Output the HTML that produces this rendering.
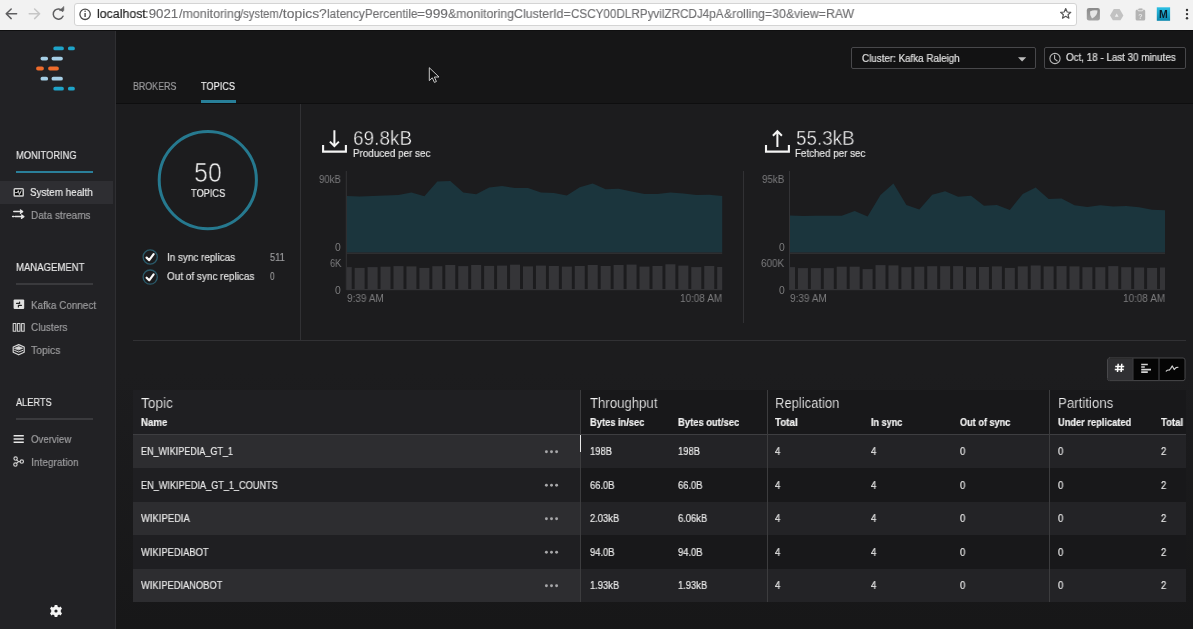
<!DOCTYPE html><html><head><meta charset="utf-8"><style>
*{margin:0;padding:0}
html,body{width:1193px;height:629px;overflow:hidden;background:#1c1c1e;font-family:"Liberation Sans",sans-serif}
.t{position:absolute;white-space:nowrap;transform-origin:0 0;will-change:transform}
.r{position:absolute}
svg.ov{position:absolute;left:0;top:0}
</style></head><body><div class="r" style="left:0px;top:0px;width:1193px;height:30px;background:#f2f2f2;"></div>
<div class="r" style="left:0px;top:30px;width:1193px;height:1.5px;background:#0f0f10;"></div>
<div class="r" style="left:0px;top:31px;width:115px;height:598px;background:#222225;"></div>
<div class="r" style="left:115px;top:31px;width:1px;height:598px;background:#2f2f32;"></div>
<div class="r" style="left:116px;top:31px;width:1077px;height:72px;background:#161617;"></div>
<div class="r" style="left:116px;top:103px;width:1077px;height:1px;background:#0e0e0f;"></div>
<div class="r" style="left:116px;top:104px;width:1077px;height:525px;background:linear-gradient(#1c1c1e 0px,#1c1c1e 270px,#171718 525px);"></div>
<div class="r" style="left:73.5px;top:3px;width:1003.5px;height:22.8px;background:#ffffff;border:1px solid #d4d4d4;border-radius:3px;box-sizing:border-box;"></div>
<div class="t" style="left:96.50px;top:8.42px;font-size:12.91px;line-height:12.91px;color:#202020;transform:scaleX(0.9585);-webkit-text-stroke:0.15px #202020">localhost</div>
<div class="t" style="left:145.30px;top:8.42px;font-size:12.91px;line-height:12.91px;color:#707072;transform:scaleX(1.0285);-webkit-text-stroke:0.15px #707072">:9021</div>
<div class="t" style="left:178.50px;top:8.42px;font-size:12.91px;line-height:12.91px;color:#707072;transform:scaleX(0.9685);-webkit-text-stroke:0.15px #707072">/monitoring</div>
<div class="t" style="left:240.30px;top:8.42px;font-size:12.91px;line-height:12.91px;color:#707072;transform:scaleX(0.8709);-webkit-text-stroke:0.15px #707072">/system</div>
<div class="t" style="left:279.00px;top:8.42px;font-size:12.91px;line-height:12.91px;color:#707072;transform:scaleX(1.0752);-webkit-text-stroke:0.15px #707072">/topics?</div>
<div class="t" style="left:326.80px;top:8.42px;font-size:12.91px;line-height:12.91px;color:#707072;transform:scaleX(0.9223);-webkit-text-stroke:0.15px #707072">latencyPercentile</div>
<div class="t" style="left:417.40px;top:8.42px;font-size:12.91px;line-height:12.91px;color:#707072;transform:scaleX(1.0669);-webkit-text-stroke:0.15px #707072">=999</div>
<div class="t" style="left:448.40px;top:8.42px;font-size:12.91px;line-height:12.91px;color:#707072;transform:scaleX(0.9587);-webkit-text-stroke:0.15px #707072">&amp;monitoringClusterId=</div>
<div class="t" style="left:571.10px;top:8.42px;font-size:12.91px;line-height:12.91px;color:#707072;transform:scaleX(0.9047);-webkit-text-stroke:0.15px #707072">CSCY00DLRPyvilZRCDJ4pA</div>
<div class="t" style="left:723.50px;top:8.42px;font-size:12.91px;line-height:12.91px;color:#707072;transform:scaleX(0.9535);-webkit-text-stroke:0.15px #707072">&amp;rolling=30&amp;view=RAW</div>
<div class="t" style="left:16.40px;top:149.94px;font-size:11.36px;line-height:11.36px;color:#e8e8e8;transform:scaleX(0.8239);-webkit-text-stroke:0.2px #e8e8e8;">MONITORING</div>
<div class="r" style="left:16px;top:171px;width:76.5px;height:2px;background:#2a7f9a;"></div>
<div class="r" style="left:0px;top:181px;width:112.5px;height:22.5px;background:#2e2e32;"></div>
<div class="t" style="left:30.40px;top:187.04px;font-size:11.36px;line-height:11.36px;color:#ececec;transform:scaleX(0.8707);-webkit-text-stroke:0.2px #ececec;">System health</div>
<div class="t" style="left:30.50px;top:209.94px;font-size:11.36px;line-height:11.36px;color:#9d9d9f;transform:scaleX(0.8815);-webkit-text-stroke:0.2px #9d9d9f;">Data streams</div>
<div class="t" style="left:16.40px;top:262.24px;font-size:11.36px;line-height:11.36px;color:#e8e8e8;transform:scaleX(0.8408);-webkit-text-stroke:0.2px #e8e8e8;">MANAGEMENT</div>
<div class="r" style="left:16px;top:283px;width:76.5px;height:1.5px;background:#3a3a3d;"></div>
<div class="t" style="left:30.70px;top:299.64px;font-size:11.36px;line-height:11.36px;color:#9d9d9f;transform:scaleX(0.8731);-webkit-text-stroke:0.2px #9d9d9f;">Kafka Connect</div>
<div class="t" style="left:30.70px;top:322.44px;font-size:11.36px;line-height:11.36px;color:#9d9d9f;transform:scaleX(0.8715);-webkit-text-stroke:0.2px #9d9d9f;">Clusters</div>
<div class="t" style="left:30.70px;top:344.84px;font-size:11.36px;line-height:11.36px;color:#9d9d9f;transform:scaleX(0.9145);-webkit-text-stroke:0.2px #9d9d9f;">Topics</div>
<div class="t" style="left:16.20px;top:396.94px;font-size:11.36px;line-height:11.36px;color:#e8e8e8;transform:scaleX(0.8077);-webkit-text-stroke:0.2px #e8e8e8;">ALERTS</div>
<div class="r" style="left:16px;top:418px;width:76.5px;height:1.5px;background:#3a3a3d;"></div>
<div class="t" style="left:30.50px;top:434.14px;font-size:11.36px;line-height:11.36px;color:#9d9d9f;transform:scaleX(0.8511);-webkit-text-stroke:0.2px #9d9d9f;">Overview</div>
<div class="t" style="left:30.50px;top:457.14px;font-size:11.36px;line-height:11.36px;color:#9d9d9f;transform:scaleX(0.8891);-webkit-text-stroke:0.2px #9d9d9f;">Integration</div>
<div class="t" style="left:132.60px;top:80.64px;font-size:11.36px;line-height:11.36px;color:#9a9a9c;transform:scaleX(0.7802);-webkit-text-stroke:0.2px #9a9a9c;">BROKERS</div>
<div class="t" style="left:201.40px;top:80.64px;font-size:11.36px;line-height:11.36px;color:#f2f2f2;transform:scaleX(0.8086);-webkit-text-stroke:0.2px #f2f2f2;">TOPICS</div>
<div class="r" style="left:201px;top:100px;width:35px;height:3px;background:#287f99;"></div>
<div class="r" style="left:851px;top:47.3px;width:184.5px;height:21.4px;background:#121213;border:1px solid #48484b;border-radius:2px;box-sizing:border-box;"></div>
<div class="t" style="left:862.00px;top:54.22px;font-size:10.33px;line-height:10.33px;color:#e0e0e0;transform:scaleX(0.9505);-webkit-text-stroke:0.2px #e0e0e0;">Cluster: Kafka Raleigh</div>
<div class="r" style="left:1044px;top:47.3px;width:141.5px;height:21.4px;background:#121213;border:1px solid #48484b;border-radius:2px;box-sizing:border-box;"></div>
<div class="t" style="left:1065.70px;top:53.12px;font-size:10.33px;line-height:10.33px;color:#e0e0e0;transform:scaleX(0.9511);-webkit-text-stroke:0.2px #e0e0e0;">Oct, 18 - Last 30 minutes</div>
<div class="r" style="left:300px;top:104px;width:1px;height:236px;background:#313134;"></div>
<div class="r" style="left:133px;top:340px;width:1052.5px;height:1px;background:#313134;"></div>
<div class="t" style="left:194.40px;top:160.27px;font-size:26.86px;line-height:26.86px;color:#f4f4f4;transform:scaleX(0.9313);-webkit-text-stroke:0.6px #1c1c1e;">50</div>
<div class="t" style="left:191.00px;top:188.18px;font-size:10.85px;line-height:10.85px;color:#e8e8e8;transform:scaleX(0.8532);-webkit-text-stroke:0.2px #e8e8e8;">TOPICS</div>
<div class="t" style="left:166.60px;top:251.88px;font-size:10.85px;line-height:10.85px;color:#e0e0e0;transform:scaleX(0.9118);-webkit-text-stroke:0.2px #e0e0e0;">In sync replicas</div>
<div class="t" style="left:166.60px;top:271.38px;font-size:10.85px;line-height:10.85px;color:#e0e0e0;transform:scaleX(0.9182);-webkit-text-stroke:0.2px #e0e0e0;">Out of sync replicas</div>
<div class="t" style="left:269.70px;top:251.88px;font-size:10.85px;line-height:10.85px;color:#9a9a9c;transform:scaleX(0.8555);-webkit-text-stroke:0.2px #9a9a9c;">511</div>
<div class="t" style="left:269.70px;top:271.38px;font-size:10.85px;line-height:10.85px;color:#9a9a9c;transform:scaleX(0.7273);-webkit-text-stroke:0.2px #9a9a9c;">0</div>
<div class="t" style="left:352.50px;top:127.84px;font-size:20.66px;line-height:20.66px;color:#ffffff;transform:scaleX(0.9191);-webkit-text-stroke:0.45px #1c1c1e;">69.8kB</div>
<div class="t" style="left:352.50px;top:148.28px;font-size:10.85px;line-height:10.85px;color:#e6e6e6;transform:scaleX(0.9112);-webkit-text-stroke:0.2px #e6e6e6;">Produced per sec</div>
<div class="t" style="left:795.80px;top:127.84px;font-size:20.66px;line-height:20.66px;color:#ffffff;transform:scaleX(0.9114);-webkit-text-stroke:0.45px #1c1c1e;">55.3kB</div>
<div class="t" style="left:794.80px;top:148.28px;font-size:10.85px;line-height:10.85px;color:#e6e6e6;transform:scaleX(0.9049);-webkit-text-stroke:0.2px #e6e6e6;">Fetched per sec</div>
<div class="t" style="left:318.90px;top:175.12px;font-size:10.33px;line-height:10.33px;color:#7c7c7e;transform:scaleX(0.9237);-webkit-text-stroke:0px;">90kB</div>
<div class="t" style="left:335.40px;top:242.82px;font-size:10.33px;line-height:10.33px;color:#7c7c7e;transform:scaleX(0.9217);-webkit-text-stroke:0px;">0</div>
<div class="t" style="left:329.70px;top:259.12px;font-size:10.33px;line-height:10.33px;color:#7c7c7e;transform:scaleX(0.8933);-webkit-text-stroke:0px;">6K</div>
<div class="t" style="left:335.40px;top:286.42px;font-size:10.33px;line-height:10.33px;color:#7c7c7e;transform:scaleX(0.9217);-webkit-text-stroke:0px;">0</div>
<div class="t" style="left:347.20px;top:293.92px;font-size:10.33px;line-height:10.33px;color:#7c7c7e;transform:scaleX(0.9723);-webkit-text-stroke:0px;">9:39 AM</div>
<div class="t" style="left:680.00px;top:293.92px;font-size:10.33px;line-height:10.33px;color:#7c7c7e;transform:scaleX(0.9646);-webkit-text-stroke:0px;">10:08 AM</div>
<div class="t" style="left:761.60px;top:175.12px;font-size:10.33px;line-height:10.33px;color:#7c7c7e;transform:scaleX(0.9407);-webkit-text-stroke:0px;">95kB</div>
<div class="t" style="left:778.70px;top:242.82px;font-size:10.33px;line-height:10.33px;color:#7c7c7e;transform:scaleX(0.9217);-webkit-text-stroke:0px;">0</div>
<div class="t" style="left:761.10px;top:259.22px;font-size:10.33px;line-height:10.33px;color:#7c7c7e;transform:scaleX(0.9607);-webkit-text-stroke:0px;">600K</div>
<div class="t" style="left:778.70px;top:286.42px;font-size:10.33px;line-height:10.33px;color:#7c7c7e;transform:scaleX(0.9217);-webkit-text-stroke:0px;">0</div>
<div class="t" style="left:790.30px;top:293.92px;font-size:10.33px;line-height:10.33px;color:#7c7c7e;transform:scaleX(0.9723);-webkit-text-stroke:0px;">9:39 AM</div>
<div class="t" style="left:1122.80px;top:293.92px;font-size:10.33px;line-height:10.33px;color:#7c7c7e;transform:scaleX(0.9646);-webkit-text-stroke:0px;">10:08 AM</div>
<div class="r" style="left:743px;top:171px;width:1px;height:152px;background:#313134;"></div>
<div class="r" style="left:132.5px;top:389.5px;width:448px;height:44.5px;background:#1f1f22;"></div>
<div class="r" style="left:580.5px;top:389.5px;width:605px;height:44.5px;background:#18181a;"></div>
<div class="r" style="left:132.5px;top:434px;width:1053px;height:1.2px;background:#3e3e41;"></div>
<div class="r" style="left:132.5px;top:435.3px;width:448px;height:32.69999999999999px;background:#2d2d30;"></div>
<div class="r" style="left:580.5px;top:435.3px;width:605px;height:32.69999999999999px;background:#232326;"></div>
<div class="r" style="left:132.5px;top:468px;width:448px;height:33.60000000000002px;background:#1f1f22;"></div>
<div class="r" style="left:580.5px;top:468px;width:605px;height:33.60000000000002px;background:#18181a;"></div>
<div class="r" style="left:132.5px;top:501.6px;width:448px;height:33.60000000000002px;background:#2d2d30;"></div>
<div class="r" style="left:580.5px;top:501.6px;width:605px;height:33.60000000000002px;background:#232326;"></div>
<div class="r" style="left:132.5px;top:535.2px;width:448px;height:33.59999999999991px;background:#1f1f22;"></div>
<div class="r" style="left:580.5px;top:535.2px;width:605px;height:33.59999999999991px;background:#18181a;"></div>
<div class="r" style="left:132.5px;top:568.8px;width:448px;height:33.200000000000045px;background:#2d2d30;"></div>
<div class="r" style="left:580.5px;top:568.8px;width:605px;height:33.200000000000045px;background:#232326;"></div>
<div class="r" style="left:580px;top:389.5px;width:1px;height:212.79999999999995px;background:#3c3c3e;"></div>
<div class="r" style="left:767px;top:389.5px;width:1px;height:212.79999999999995px;background:#3c3c3e;"></div>
<div class="r" style="left:1049.3px;top:389.5px;width:1px;height:212.79999999999995px;background:#3c3c3e;"></div>
<div class="r" style="left:580px;top:435px;width:1.2px;height:16.5px;background:#e8e8e8;"></div>
<div class="t" style="left:141.40px;top:395.81px;font-size:14.46px;line-height:14.46px;color:#f2f2f2;transform:scaleX(0.9452);-webkit-text-stroke:0.2px #1f1f22;">Topic</div>
<div class="t" style="left:589.70px;top:395.81px;font-size:14.46px;line-height:14.46px;color:#f2f2f2;transform:scaleX(0.9120);-webkit-text-stroke:0.2px #18181a;">Throughput</div>
<div class="t" style="left:774.90px;top:395.81px;font-size:14.46px;line-height:14.46px;color:#f2f2f2;transform:scaleX(0.8993);-webkit-text-stroke:0.2px #18181a;">Replication</div>
<div class="t" style="left:1057.60px;top:395.81px;font-size:14.46px;line-height:14.46px;color:#f2f2f2;transform:scaleX(0.9178);-webkit-text-stroke:0.2px #18181a;">Partitions</div>
<div class="t" style="left:141.40px;top:417.92px;font-size:10.33px;line-height:10.33px;color:#f0f0f0;font-weight:bold;transform:scaleX(0.9326);-webkit-text-stroke:0.2px #f0f0f0;">Name</div>
<div class="t" style="left:589.70px;top:417.92px;font-size:10.33px;line-height:10.33px;color:#f0f0f0;font-weight:bold;transform:scaleX(0.9023);-webkit-text-stroke:0.2px #f0f0f0;">Bytes in/sec</div>
<div class="t" style="left:678.00px;top:417.92px;font-size:10.33px;line-height:10.33px;color:#f0f0f0;font-weight:bold;transform:scaleX(0.9108);-webkit-text-stroke:0.2px #f0f0f0;">Bytes out/sec</div>
<div class="t" style="left:774.90px;top:417.92px;font-size:10.33px;line-height:10.33px;color:#f0f0f0;font-weight:bold;transform:scaleX(0.9520);-webkit-text-stroke:0.2px #f0f0f0;">Total</div>
<div class="t" style="left:871.40px;top:417.92px;font-size:10.33px;line-height:10.33px;color:#f0f0f0;font-weight:bold;transform:scaleX(0.8808);-webkit-text-stroke:0.2px #f0f0f0;">In sync</div>
<div class="t" style="left:960.00px;top:417.92px;font-size:10.33px;line-height:10.33px;color:#f0f0f0;font-weight:bold;transform:scaleX(0.8850);-webkit-text-stroke:0.2px #f0f0f0;">Out of sync</div>
<div class="t" style="left:1057.60px;top:417.92px;font-size:10.33px;line-height:10.33px;color:#f0f0f0;font-weight:bold;transform:scaleX(0.8977);-webkit-text-stroke:0.2px #f0f0f0;">Under replicated</div>
<div class="t" style="left:1161.00px;top:417.92px;font-size:10.33px;line-height:10.33px;color:#f0f0f0;font-weight:bold;transform:scaleX(0.9269);-webkit-text-stroke:0.2px #f0f0f0;">Total</div>
<div class="t" style="left:141.40px;top:447.22px;font-size:10.33px;line-height:10.33px;color:#e8e8e8;transform:scaleX(0.8760);-webkit-text-stroke:0.2px #e8e8e8;">EN_WIKIPEDIA_GT_1</div>
<div class="t" style="left:589.70px;top:447.22px;font-size:10.33px;line-height:10.33px;color:#e8e8e8;transform:scaleX(0.9100);-webkit-text-stroke:0.2px #e8e8e8;">198B</div>
<div class="t" style="left:678.00px;top:447.22px;font-size:10.33px;line-height:10.33px;color:#e8e8e8;transform:scaleX(0.9100);-webkit-text-stroke:0.2px #e8e8e8;">198B</div>
<div class="t" style="left:774.90px;top:447.22px;font-size:10.33px;line-height:10.33px;color:#e8e8e8;transform:scaleX(0.9100);-webkit-text-stroke:0.2px #e8e8e8;">4</div>
<div class="t" style="left:871.40px;top:447.22px;font-size:10.33px;line-height:10.33px;color:#e8e8e8;transform:scaleX(0.9100);-webkit-text-stroke:0.2px #e8e8e8;">4</div>
<div class="t" style="left:960.00px;top:447.22px;font-size:10.33px;line-height:10.33px;color:#e8e8e8;transform:scaleX(0.9100);-webkit-text-stroke:0.2px #e8e8e8;">0</div>
<div class="t" style="left:1057.60px;top:447.22px;font-size:10.33px;line-height:10.33px;color:#e8e8e8;transform:scaleX(0.9100);-webkit-text-stroke:0.2px #e8e8e8;">0</div>
<div class="t" style="left:1161.00px;top:447.22px;font-size:10.33px;line-height:10.33px;color:#e8e8e8;transform:scaleX(0.9100);-webkit-text-stroke:0.2px #e8e8e8;">2</div>
<div class="t" style="left:141.40px;top:480.72px;font-size:10.33px;line-height:10.33px;color:#e8e8e8;transform:scaleX(0.8856);-webkit-text-stroke:0.2px #e8e8e8;">EN_WIKIPEDIA_GT_1_COUNTS</div>
<div class="t" style="left:589.70px;top:480.72px;font-size:10.33px;line-height:10.33px;color:#e8e8e8;transform:scaleX(0.9100);-webkit-text-stroke:0.2px #e8e8e8;">66.0B</div>
<div class="t" style="left:678.00px;top:480.72px;font-size:10.33px;line-height:10.33px;color:#e8e8e8;transform:scaleX(0.9100);-webkit-text-stroke:0.2px #e8e8e8;">66.0B</div>
<div class="t" style="left:774.90px;top:480.72px;font-size:10.33px;line-height:10.33px;color:#e8e8e8;transform:scaleX(0.9100);-webkit-text-stroke:0.2px #e8e8e8;">4</div>
<div class="t" style="left:871.40px;top:480.72px;font-size:10.33px;line-height:10.33px;color:#e8e8e8;transform:scaleX(0.9100);-webkit-text-stroke:0.2px #e8e8e8;">4</div>
<div class="t" style="left:960.00px;top:480.72px;font-size:10.33px;line-height:10.33px;color:#e8e8e8;transform:scaleX(0.9100);-webkit-text-stroke:0.2px #e8e8e8;">0</div>
<div class="t" style="left:1057.60px;top:480.72px;font-size:10.33px;line-height:10.33px;color:#e8e8e8;transform:scaleX(0.9100);-webkit-text-stroke:0.2px #e8e8e8;">0</div>
<div class="t" style="left:1161.00px;top:480.72px;font-size:10.33px;line-height:10.33px;color:#e8e8e8;transform:scaleX(0.9100);-webkit-text-stroke:0.2px #e8e8e8;">2</div>
<div class="t" style="left:141.40px;top:514.22px;font-size:10.33px;line-height:10.33px;color:#e8e8e8;transform:scaleX(0.9140);-webkit-text-stroke:0.2px #e8e8e8;">WIKIPEDIA</div>
<div class="t" style="left:589.70px;top:514.22px;font-size:10.33px;line-height:10.33px;color:#e8e8e8;transform:scaleX(0.9100);-webkit-text-stroke:0.2px #e8e8e8;">2.03kB</div>
<div class="t" style="left:678.00px;top:514.22px;font-size:10.33px;line-height:10.33px;color:#e8e8e8;transform:scaleX(0.9100);-webkit-text-stroke:0.2px #e8e8e8;">6.06kB</div>
<div class="t" style="left:774.90px;top:514.22px;font-size:10.33px;line-height:10.33px;color:#e8e8e8;transform:scaleX(0.9100);-webkit-text-stroke:0.2px #e8e8e8;">4</div>
<div class="t" style="left:871.40px;top:514.22px;font-size:10.33px;line-height:10.33px;color:#e8e8e8;transform:scaleX(0.9100);-webkit-text-stroke:0.2px #e8e8e8;">4</div>
<div class="t" style="left:960.00px;top:514.22px;font-size:10.33px;line-height:10.33px;color:#e8e8e8;transform:scaleX(0.9100);-webkit-text-stroke:0.2px #e8e8e8;">0</div>
<div class="t" style="left:1057.60px;top:514.22px;font-size:10.33px;line-height:10.33px;color:#e8e8e8;transform:scaleX(0.9100);-webkit-text-stroke:0.2px #e8e8e8;">0</div>
<div class="t" style="left:1161.00px;top:514.22px;font-size:10.33px;line-height:10.33px;color:#e8e8e8;transform:scaleX(0.9100);-webkit-text-stroke:0.2px #e8e8e8;">2</div>
<div class="t" style="left:141.40px;top:547.72px;font-size:10.33px;line-height:10.33px;color:#e8e8e8;transform:scaleX(0.9070);-webkit-text-stroke:0.2px #e8e8e8;">WIKIPEDIABOT</div>
<div class="t" style="left:589.70px;top:547.72px;font-size:10.33px;line-height:10.33px;color:#e8e8e8;transform:scaleX(0.9100);-webkit-text-stroke:0.2px #e8e8e8;">94.0B</div>
<div class="t" style="left:678.00px;top:547.72px;font-size:10.33px;line-height:10.33px;color:#e8e8e8;transform:scaleX(0.9100);-webkit-text-stroke:0.2px #e8e8e8;">94.0B</div>
<div class="t" style="left:774.90px;top:547.72px;font-size:10.33px;line-height:10.33px;color:#e8e8e8;transform:scaleX(0.9100);-webkit-text-stroke:0.2px #e8e8e8;">4</div>
<div class="t" style="left:871.40px;top:547.72px;font-size:10.33px;line-height:10.33px;color:#e8e8e8;transform:scaleX(0.9100);-webkit-text-stroke:0.2px #e8e8e8;">4</div>
<div class="t" style="left:960.00px;top:547.72px;font-size:10.33px;line-height:10.33px;color:#e8e8e8;transform:scaleX(0.9100);-webkit-text-stroke:0.2px #e8e8e8;">0</div>
<div class="t" style="left:1057.60px;top:547.72px;font-size:10.33px;line-height:10.33px;color:#e8e8e8;transform:scaleX(0.9100);-webkit-text-stroke:0.2px #e8e8e8;">0</div>
<div class="t" style="left:1161.00px;top:547.72px;font-size:10.33px;line-height:10.33px;color:#e8e8e8;transform:scaleX(0.9100);-webkit-text-stroke:0.2px #e8e8e8;">2</div>
<div class="t" style="left:141.40px;top:581.22px;font-size:10.33px;line-height:10.33px;color:#e8e8e8;transform:scaleX(0.9037);-webkit-text-stroke:0.2px #e8e8e8;">WIKIPEDIANOBOT</div>
<div class="t" style="left:589.70px;top:581.22px;font-size:10.33px;line-height:10.33px;color:#e8e8e8;transform:scaleX(0.9100);-webkit-text-stroke:0.2px #e8e8e8;">1.93kB</div>
<div class="t" style="left:678.00px;top:581.22px;font-size:10.33px;line-height:10.33px;color:#e8e8e8;transform:scaleX(0.9100);-webkit-text-stroke:0.2px #e8e8e8;">1.93kB</div>
<div class="t" style="left:774.90px;top:581.22px;font-size:10.33px;line-height:10.33px;color:#e8e8e8;transform:scaleX(0.9100);-webkit-text-stroke:0.2px #e8e8e8;">4</div>
<div class="t" style="left:871.40px;top:581.22px;font-size:10.33px;line-height:10.33px;color:#e8e8e8;transform:scaleX(0.9100);-webkit-text-stroke:0.2px #e8e8e8;">4</div>
<div class="t" style="left:960.00px;top:581.22px;font-size:10.33px;line-height:10.33px;color:#e8e8e8;transform:scaleX(0.9100);-webkit-text-stroke:0.2px #e8e8e8;">0</div>
<div class="t" style="left:1057.60px;top:581.22px;font-size:10.33px;line-height:10.33px;color:#e8e8e8;transform:scaleX(0.9100);-webkit-text-stroke:0.2px #e8e8e8;">0</div>
<div class="t" style="left:1161.00px;top:581.22px;font-size:10.33px;line-height:10.33px;color:#e8e8e8;transform:scaleX(0.9100);-webkit-text-stroke:0.2px #e8e8e8;">2</div><svg class="ov" width="1193" height="629" viewBox="0 0 1193 629"><path d="M346.70 252.60 L346.70 196.00 L359.65 196.50 L372.60 196.00 L385.54 195.50 L398.49 195.10 L411.44 192.60 L424.39 196.30 L437.34 181.40 L450.29 180.90 L463.23 192.60 L476.18 194.30 L489.13 187.60 L502.08 185.90 L515.03 188.10 L527.98 188.10 L540.92 192.60 L553.87 193.10 L566.82 195.60 L579.77 187.30 L592.72 183.40 L605.67 189.30 L618.61 188.80 L631.56 191.50 L644.51 194.00 L657.46 194.00 L670.41 192.60 L683.36 193.50 L696.30 195.10 L709.25 194.80 L722.20 196.00 L722.20 252.60 Z" fill="#1b353d"/><rect x="346.70" y="252.60" width="375.50" height="1.2" fill="#333336"/><rect x="346.70" y="267.10" width="5.00" height="21.90" fill="#353538"/><rect x="354.65" y="267.90" width="10.00" height="21.10" fill="#353538"/><rect x="367.60" y="267.10" width="10.00" height="21.90" fill="#353538"/><rect x="380.54" y="266.70" width="10.00" height="22.30" fill="#353538"/><rect x="393.49" y="266.10" width="10.00" height="22.90" fill="#353538"/><rect x="406.44" y="266.40" width="10.00" height="22.60" fill="#353538"/><rect x="419.39" y="267.90" width="10.00" height="21.10" fill="#353538"/><rect x="432.34" y="266.20" width="10.00" height="22.80" fill="#353538"/><rect x="445.29" y="265.00" width="10.00" height="24.00" fill="#353538"/><rect x="458.23" y="266.10" width="10.00" height="22.90" fill="#353538"/><rect x="471.18" y="265.00" width="10.00" height="24.00" fill="#353538"/><rect x="484.13" y="265.90" width="10.00" height="23.10" fill="#353538"/><rect x="497.08" y="265.60" width="10.00" height="23.40" fill="#353538"/><rect x="510.03" y="264.70" width="10.00" height="24.30" fill="#353538"/><rect x="522.98" y="266.40" width="10.00" height="22.60" fill="#353538"/><rect x="535.92" y="265.60" width="10.00" height="23.40" fill="#353538"/><rect x="548.87" y="266.00" width="10.00" height="23.00" fill="#353538"/><rect x="561.82" y="266.60" width="10.00" height="22.40" fill="#353538"/><rect x="574.77" y="266.00" width="10.00" height="23.00" fill="#353538"/><rect x="587.72" y="265.00" width="10.00" height="24.00" fill="#353538"/><rect x="600.67" y="266.00" width="10.00" height="23.00" fill="#353538"/><rect x="613.61" y="265.00" width="10.00" height="24.00" fill="#353538"/><rect x="626.56" y="264.60" width="10.00" height="24.40" fill="#353538"/><rect x="639.51" y="266.60" width="10.00" height="22.40" fill="#353538"/><rect x="652.46" y="266.00" width="10.00" height="23.00" fill="#353538"/><rect x="665.41" y="264.30" width="10.00" height="24.70" fill="#353538"/><rect x="678.36" y="265.60" width="10.00" height="23.40" fill="#353538"/><rect x="691.30" y="267.10" width="10.00" height="21.90" fill="#353538"/><rect x="704.25" y="266.00" width="10.00" height="23.00" fill="#353538"/><rect x="717.20" y="267.00" width="5.00" height="22.00" fill="#353538"/><rect x="346.70" y="289.00" width="375.50" height="1.2" fill="#333336"/><rect x="345.80" y="171" width="1" height="119.00" fill="#333336"/><path d="M790.00 252.60 L790.00 215.60 L802.93 216.10 L815.86 215.80 L828.79 215.80 L841.72 215.80 L854.66 211.10 L867.59 216.40 L880.52 195.10 L893.45 183.40 L906.38 204.90 L919.31 209.40 L932.24 194.80 L945.17 191.30 L958.10 196.80 L971.03 195.80 L983.97 205.70 L996.90 204.90 L1009.83 209.90 L1022.76 194.00 L1035.69 187.60 L1048.62 199.00 L1061.55 198.50 L1074.48 205.20 L1087.41 206.90 L1100.34 205.20 L1113.28 206.50 L1126.21 206.00 L1139.14 207.20 L1152.07 209.70 L1165.00 210.20 L1165.00 252.60 Z" fill="#1b353d"/><rect x="790.00" y="252.60" width="375.00" height="1.2" fill="#333336"/><rect x="790.00" y="267.10" width="5.00" height="21.90" fill="#353538"/><rect x="797.93" y="268.10" width="10.00" height="20.90" fill="#353538"/><rect x="810.86" y="268.10" width="10.00" height="20.90" fill="#353538"/><rect x="823.79" y="268.10" width="10.00" height="20.90" fill="#353538"/><rect x="836.72" y="266.70" width="10.00" height="22.30" fill="#353538"/><rect x="849.66" y="266.70" width="10.00" height="22.30" fill="#353538"/><rect x="862.59" y="269.10" width="10.00" height="19.90" fill="#353538"/><rect x="875.52" y="265.10" width="10.00" height="23.90" fill="#353538"/><rect x="888.45" y="265.40" width="10.00" height="23.60" fill="#353538"/><rect x="901.38" y="267.20" width="10.00" height="21.80" fill="#353538"/><rect x="914.31" y="266.70" width="10.00" height="22.30" fill="#353538"/><rect x="927.24" y="266.20" width="10.00" height="22.80" fill="#353538"/><rect x="940.17" y="266.20" width="10.00" height="22.80" fill="#353538"/><rect x="953.10" y="266.10" width="10.00" height="22.90" fill="#353538"/><rect x="966.03" y="267.10" width="10.00" height="21.90" fill="#353538"/><rect x="978.97" y="267.00" width="10.00" height="22.00" fill="#353538"/><rect x="991.90" y="266.40" width="10.00" height="22.60" fill="#353538"/><rect x="1004.83" y="267.90" width="10.00" height="21.10" fill="#353538"/><rect x="1017.76" y="266.40" width="10.00" height="22.60" fill="#353538"/><rect x="1030.69" y="265.50" width="10.00" height="23.50" fill="#353538"/><rect x="1043.62" y="266.40" width="10.00" height="22.60" fill="#353538"/><rect x="1056.55" y="266.10" width="10.00" height="22.90" fill="#353538"/><rect x="1069.48" y="266.40" width="10.00" height="22.60" fill="#353538"/><rect x="1082.41" y="267.20" width="10.00" height="21.80" fill="#353538"/><rect x="1095.34" y="267.20" width="10.00" height="21.80" fill="#353538"/><rect x="1108.28" y="266.10" width="10.00" height="22.90" fill="#353538"/><rect x="1121.21" y="267.20" width="10.00" height="21.80" fill="#353538"/><rect x="1134.14" y="267.50" width="10.00" height="21.50" fill="#353538"/><rect x="1147.07" y="267.90" width="10.00" height="21.10" fill="#353538"/><rect x="1160.00" y="267.50" width="5.00" height="21.50" fill="#353538"/><rect x="790.00" y="289.00" width="375.00" height="1.2" fill="#333336"/><rect x="789.00" y="171" width="1" height="119.00" fill="#333336"/><g fill="none" stroke-linecap="round" stroke-linejoin="round">
<!-- chrome -->
<path d="M6.2 13.8 H16.6 M11.2 9 L6.2 13.8 L11.2 18.6" stroke="#5f5f61" stroke-width="1.5"/>
<path d="M39.6 13.8 H29.2 M34.6 9 L39.6 13.8 L34.6 18.6" stroke="#c6c6c6" stroke-width="1.5"/>
<path d="M62.6 11.2 A5.1 5.1 0 1 0 63 16.2" stroke="#5f5f61" stroke-width="1.5"/>
<path d="M59.8 10.6 L63.8 10.6 L63.8 6.8 Z" fill="#5f5f61" stroke="#5f5f61" stroke-width="0.6"/>
<circle cx="85.1" cy="14.3" r="5.2" stroke="#4a4a4a" stroke-width="1.3"/>
<path d="M85.1 13 V17" stroke="#4a4a4a" stroke-width="1.4" stroke-linecap="butt"/>
<circle cx="85.1" cy="11.2" r="0.8" fill="#4a4a4a" stroke="none"/>
<path d="M1065.7 8.6 L1067.2 12 L1070.8 12.3 L1068 14.7 L1068.9 18.2 L1065.7 16.3 L1062.5 18.2 L1063.4 14.7 L1060.6 12.3 L1064.2 12 Z" stroke="#555" stroke-width="1.2"/>
<rect x="1086.8" y="7.9" width="13.1" height="12.6" rx="2.2" fill="url(#sg)" stroke="none"/>
<path d="M1090 11.5 Q1093.5 9.5 1097.5 10.5 Q1097.5 16 1092 18.5 Q1089.5 15 1090 11.5 Z" fill="#e6e6e6" stroke="none"/>
<path d="M1113.8 9 H1119.6 L1123.4 15.6 L1120.5 20.2 H1112.9 L1110 15.6 Z" fill="#c2c2c2" stroke="none"/>
<path d="M1116.7 13.5 L1118.6 16.8 H1114.8 Z" fill="#eeeeee" stroke="none"/>
<rect x="1135.6" y="9.5" width="9.6" height="11" rx="1.5" fill="#b4b4b4" stroke="none"/>
<rect x="1137.8" y="8" width="5.2" height="2.8" rx="1" fill="#b4b4b4" stroke="#f2f2f2" stroke-width="0.8"/>
<text x="1140.4" y="18.6" font-family="Liberation Sans" font-size="7" font-weight="bold" fill="#e8e8e8" stroke="none" text-anchor="middle">?</text>
<defs><linearGradient id="mg" x1="0" y1="0" x2="0" y2="1"><stop offset="0" stop-color="#2cc0e4"/><stop offset="1" stop-color="#0a86ad"/></linearGradient><linearGradient id="sg" x1="0" y1="0" x2="0" y2="1"><stop offset="0" stop-color="#8a8a8a"/><stop offset="1" stop-color="#a4a4a4"/></linearGradient></defs><rect x="1156.8" y="7.3" width="13.3" height="13.5" fill="url(#mg)" stroke="none"/>
<text x="1163.4" y="18.2" font-family="Liberation Sans" font-size="10.5" font-weight="bold" fill="#0b1f2c" stroke="none" text-anchor="middle">M</text>
<circle cx="1187" cy="10" r="1.2" fill="#333" stroke="none"/>
<circle cx="1187" cy="14.1" r="1.2" fill="#333" stroke="none"/>
<circle cx="1187" cy="18.3" r="1.2" fill="#333" stroke="none"/>

<!-- logo -->
<g stroke-width="3.8" stroke-linecap="round">
<path d="M55.2 48.4 H62 M69.8 48.4 H73" stroke="#1ea4c9"/>
<path d="M42.4 58.6 H46.2 M53.4 58.6 H61" stroke="#a6cfe6"/>
<path d="M38 68.5 H42 M50 68.5 H57" stroke="#ee6b2b"/>
<path d="M42.4 78.7 H46.2 M53.4 78.7 H61" stroke="#a6cfe6"/>
<path d="M55.2 88.7 H62 M69.8 88.7 H73" stroke="#1ea4c9"/>
</g>

<!-- sidebar icons -->
<rect x="14.2" y="188.7" width="9" height="7.3" rx="0.8" fill="#050505" stroke="#cfcfcf" stroke-width="1.5"/>
<path d="M15.6 192.6 H17.4 L18.3 190.6 L19.4 194.6 L21.2 190.8" stroke="#d6d6d6" stroke-width="1"/>
<path d="M13.8 211.6 H22.2 M20.5 210 L22.6 211.6 L20.5 213.2 M12.6 216.6 H13.8 M15.2 216.6 H23.4 M21.6 215 L23.8 216.6 L21.6 218.2" stroke="#e6e6e6" stroke-width="1.5"/>
<rect x="13.6" y="299.6" width="10.6" height="9.4" rx="1" fill="#e0e0e0" stroke="none"/>
<path d="M16.6 303.4 H19.6 V302 M21.4 305.4 H18.4 V307" stroke="#222" stroke-width="1.2"/>
<rect x="13.2" y="323.5" width="2.6" height="7.8" stroke="#d0d0d0" stroke-width="1.1"/>
<rect x="17.4" y="323.5" width="2.6" height="7.8" stroke="#d0d0d0" stroke-width="1.1"/>
<rect x="21.6" y="323.5" width="2.6" height="7.8" stroke="#d0d0d0" stroke-width="1.1"/>
<path d="M18.7 344.6 L24.2 347 V352.2 L18.7 354.8 L13.2 352.2 V347 Z" fill="none" stroke="#d8d8d8" stroke-width="1.2"/>
<path d="M14.8 348.2 L18.7 346.6 L22.6 348.2 L18.7 349.8 Z" fill="#d8d8d8" stroke="#d8d8d8" stroke-width="0.8"/>
<path d="M14.6 350.4 L18.7 352 L22.8 350.4" stroke="#d8d8d8" stroke-width="1"/>
<path d="M13.6 435.8 H23.8 M13.6 439 H23.8 M13.6 442.2 H23.8" stroke="#e8e8e8" stroke-width="1.6" stroke-linecap="butt"/>
<circle cx="15.6" cy="458.6" r="1.7" stroke="#d0d0d0" stroke-width="1.1"/>
<circle cx="21.8" cy="461.6" r="1.7" stroke="#d0d0d0" stroke-width="1.1"/>
<circle cx="15.4" cy="464.6" r="1.7" stroke="#d0d0d0" stroke-width="1.1"/>
<path d="M16.6 459.8 L18.6 461.6 H20.1 M18.6 461.6 L16.4 463.4" stroke="#d0d0d0" stroke-width="1.1"/>
<!-- gear -->
<g transform="translate(56 611)">
<path d="M-1.3 -5.9 H1.3 L1.7 -4.3 L3.1 -3.6 L4.6 -4.4 L6 -2.2 L4.8 -1.1 V1.1 L6 2.2 L4.6 4.4 L3.1 3.6 L1.7 4.3 L1.3 5.9 H-1.3 L-1.7 4.3 L-3.1 3.6 L-4.6 4.4 L-6 2.2 L-4.8 1.1 V-1.1 L-6 -2.2 L-4.6 -4.4 L-3.1 -3.6 L-1.7 -4.3 Z" fill="#f4f4f4" stroke="none"/>
<circle cx="0" cy="0" r="1.6" fill="#222225" stroke="none"/>
</g>

<!-- topics circle -->
<circle cx="207.8" cy="180.1" r="48.6" stroke="#26798f" stroke-width="3"/>
<circle cx="150.2" cy="257" r="7.1" stroke="#2a5a6a" stroke-width="1.3"/>
<circle cx="150.2" cy="277.1" r="7.1" stroke="#2a5a6a" stroke-width="1.3"/>
<path d="M146.6 257.6 L149.2 260.2 L153.6 254.2" stroke="#fafafa" stroke-width="2.2"/>
<path d="M146.6 277.7 L149.2 280.3 L153.6 274.3" stroke="#fafafa" stroke-width="2.2"/>

<!-- download / upload -->
<path d="M334.4 130.3 V146 M329.9 141.6 L334.4 146.1 L338.9 141.6" stroke="#f4f4f4" stroke-width="2" stroke-linecap="butt" stroke-linejoin="miter"/>
<path d="M323.1 145.1 V151.6 H345.9 V145.1" stroke="#f4f4f4" stroke-width="2.1" stroke-linecap="butt" stroke-linejoin="miter"/>
<path d="M777.4 147 V131.3 M772.9 135.7 L777.4 131.2 L781.9 135.7" stroke="#f4f4f4" stroke-width="2" stroke-linecap="butt" stroke-linejoin="miter"/>
<path d="M766 145.1 V151.6 H788.9 V145.1" stroke="#f4f4f4" stroke-width="2.1" stroke-linecap="butt" stroke-linejoin="miter"/>

<!-- dropdown caret & clock -->
<path d="M1018 57.2 H1026.2 L1022.1 61.4 Z" fill="#bdbdbd" stroke="none"/>
<circle cx="1055" cy="58.5" r="5.1" stroke="#b8b8b8" stroke-width="1.1"/>
<path d="M1054.6 55.2 V58.9 L1057.2 61" stroke="#b8b8b8" stroke-width="1.1"/>

<!-- toggle group -->
<rect x="1107.5" y="358" width="77.5" height="22.6" rx="2" fill="#050505" stroke="#48484b" stroke-width="1"/>
<rect x="1108" y="358.5" width="24.6" height="21.6" fill="#303033" stroke="none"/>
<path d="M1132.9 358.5 V380.5 M1159 358.5 V380.5" stroke="#404043" stroke-width="1.2"/>
<path d="M1118.2 363.8 L1117.5 372 M1121.8 363.8 L1121.1 372 M1115.2 366.4 H1124.2 M1114.8 369.6 H1123.8" stroke="#ffffff" stroke-width="1.5" stroke-linecap="butt"/>
<path d="M1141.2 364.5 H1147.8 M1141.2 367 H1144.8 M1141.2 369.6 H1151 M1141.2 372.2 H1147.8" stroke="#d4d4d4" stroke-width="1.7" stroke-linecap="butt"/>
<path d="M1166.2 371.2 Q1167.8 369.6 1169.2 370.2 L1170.6 368.6 L1172.3 365.9 L1174.2 369.6 L1176 367.6 L1178 367.2" stroke="#d4d4d4" stroke-width="1.1"/>
<!-- cursor -->
<path d="M429.3 68.1 V80.6 L432.3 77.8 L434.4 82.4 L436.4 81.5 L434.4 77 H438.6 Z" fill="#111" stroke="#dcdcdc" stroke-width="0.9" stroke-linejoin="miter"/>
</g>
<g fill="#a8a8aa">
<circle cx="546.4" cy="451.7" r="1.45"/><circle cx="551.5" cy="451.7" r="1.45"/><circle cx="556.6" cy="451.7" r="1.45"/>
<circle cx="546.4" cy="485.2" r="1.45"/><circle cx="551.5" cy="485.2" r="1.45"/><circle cx="556.6" cy="485.2" r="1.45"/>
<circle cx="546.4" cy="518.7" r="1.45"/><circle cx="551.5" cy="518.7" r="1.45"/><circle cx="556.6" cy="518.7" r="1.45"/>
<circle cx="546.4" cy="552.2" r="1.45"/><circle cx="551.5" cy="552.2" r="1.45"/><circle cx="556.6" cy="552.2" r="1.45"/>
<circle cx="546.4" cy="585.7" r="1.45"/><circle cx="551.5" cy="585.7" r="1.45"/><circle cx="556.6" cy="585.7" r="1.45"/>
</g>
</svg></body></html>
